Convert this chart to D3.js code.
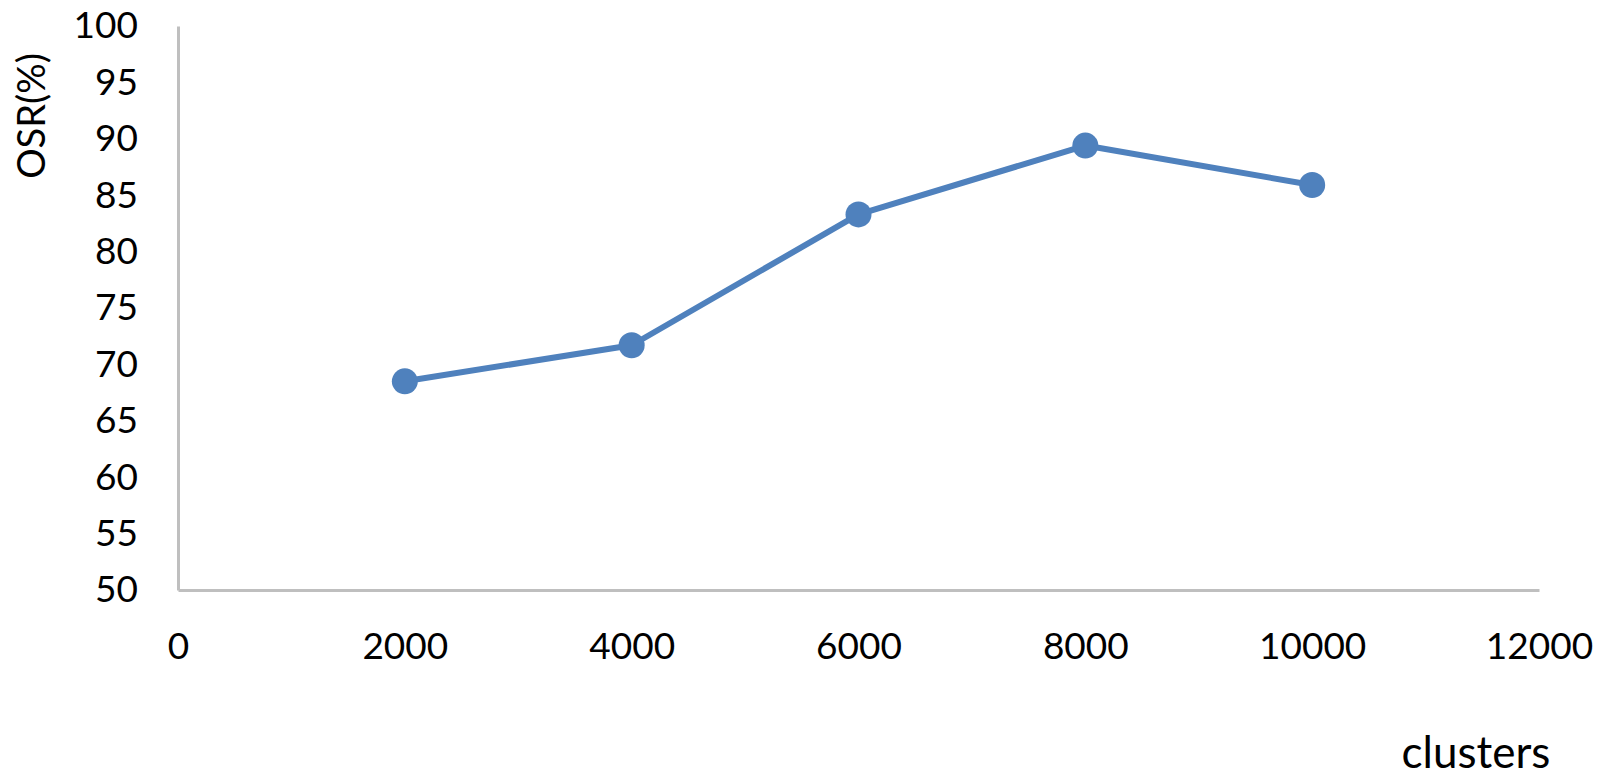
<!DOCTYPE html>
<html>
<head>
<meta charset="utf-8">
<script src="https://cdn.jsdelivr.net/npm/d3@7"></script>
<style>
  body { margin: 0; background: #fff; }
  svg { display: block; }
  text { font-family: Lato, "Open Sans", sans-serif; fill: #000; }
</style>
</head>
<body>
<div id="chart"></div>
<script>
// values
var clusters = [2000, 4000, 6000, 8000, 10000];
var osr = [68.5, 71.7, 83.3, 89.4, 85.9];
var xTicks = [0, 2000, 4000, 6000, 8000, 10000, 12000];
var yTicks = [50, 55, 60, 65, 70, 75, 80, 85, 90, 95, 100];

function render() {
    const width = 1600;
    const height = 778;
    const left = 178, right = 1539, top = 26, bottom = 590;

    const x = d3.scaleLinear().domain([0, 12000]).range([left, right]);
    const y = d3.scaleLinear().domain([50, 100]).range([bottom, top]);

    const svg = d3.select("#chart")
        .append("svg")
        .attr("width", width)
        .attr("height", height);

    // axes (no tick marks, grey lines)
    const leftAxis = d3.axisLeft(y).tickValues(yTicks).tickFormat(d3.format("d"))
        .tickSize(0).tickPadding(40);
    const bottomAxis = d3.axisBottom(x).tickValues(xTicks).tickFormat(d3.format("d"))
        .tickSize(0).tickPadding(43);

    const gy = svg.append("g")
        .attr("transform", `translate(${left},0)`)
        .call(leftAxis);
    const gx = svg.append("g")
        .attr("transform", `translate(0,${bottom})`)
        .call(bottomAxis);

    [gx, gy].forEach(g => {
        g.select(".domain").attr("stroke", "#BFBFBF").attr("stroke-width", 3);
        g.selectAll("text")
            .style("font-family", "Lato, 'Open Sans', sans-serif")
            .style("font-size", "37px")
            .attr("fill", "#000");
    });

    const data = clusters.map((c, i) => ({ c: c, v: osr[i] }));

    const line = d3.line()
        .x(d => x(d.c))
        .y(d => y(d.v));

    svg.append("path")
        .datum(data)
        .attr("d", line)
        .attr("fill", "none")
        .attr("stroke", "#4F81BD")
        .attr("stroke-width", 6)
        .attr("stroke-linejoin", "round");

    svg.selectAll("circle")
        .data(data).enter()
        .append("circle")
        .attr("cx", d => x(d.c))
        .attr("cy", d => y(d.v))
        .attr("r", 13)
        .attr("fill", "#4F81BD");

    // axis titles
    svg.append("text")
        .attr("x", 1476)
        .attr("y", 768)
        .style("font-size", "44px")
        .style("text-anchor", "middle")
        .text("clusters");

    svg.append("text")
        .attr("transform", "translate(45,116) rotate(-90)")
        .style("font-size", "38px")
        .style("text-anchor", "middle")
        .text("OSR(%)");
}

render();
</script>
</body>
</html>
